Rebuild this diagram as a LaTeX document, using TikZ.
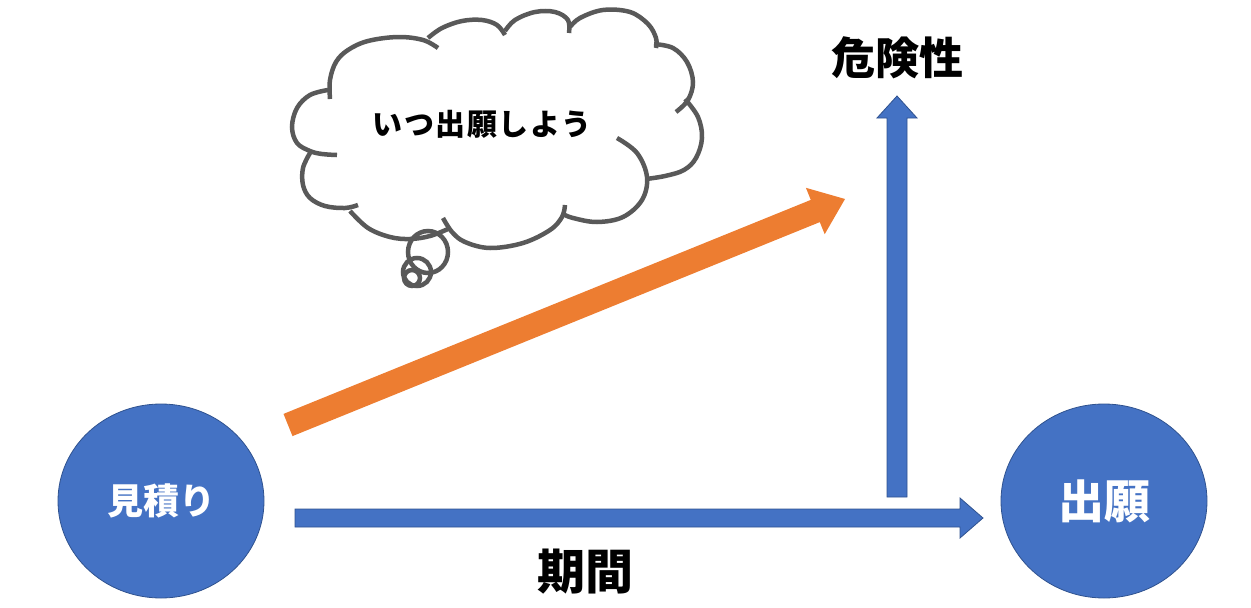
\documentclass[tikz,border=0pt]{standalone}
\usepackage{fontspec}
\newfontfamily\jp{Noto Sans CJK JP}
\newfontfamily\jpsp{Noto Sans CJK JP}[LetterSpace=5]
\usetikzlibrary{shapes.geometric}
\definecolor{pblue}{HTML}{4472C4}
\definecolor{pblueline}{HTML}{2F528F}
\definecolor{porange}{HTML}{ED7D31}
\definecolor{pgray}{HTML}{595959}
\tikzset{
  bluecirc/.style={ellipse, draw=pblueline, line width=0.8pt, fill=pblue,
    minimum width=206pt, minimum height=194pt, inner sep=0pt, text=white},
  blueblock/.style={fill=pblue, draw=pblueline, line width=0.8pt, line join=miter},
  orangeblock/.style={fill=porange, draw=none},
  cloudline/.style={draw=pgray, line width=4.5pt, line cap=butt},
  puff/.style={cloudline, smooth, tension=0.6},
  bigtext/.style={inner sep=0pt, text=black},
}
\begin{document}
\begin{tikzpicture}[x=1pt,y=-1pt]
\useasboundingbox (0,0) rectangle (1251,608);

% circles
\node[bluecirc, font=\jp\bfseries\fontsize{36}{40}\selectfont] (est) at (161,501) {見積り};
\node[bluecirc, font=\jp\bfseries\fontsize{46}{50}\selectfont] (app) at (1104,501) {出願};

% horizontal blue arrow
\coordinate (h1) at (295,518);
\coordinate (h2) at (983,518);
\filldraw[blueblock] (295,509) -- (960,509) -- (960,498) -- (h2) -- (960,538) -- (960,527) -- (295,527) -- cycle;

% vertical blue arrow
\coordinate (v1) at (897,497);
\coordinate (v2) at (897,96);
\filldraw[blueblock] (887,497) -- (887,118) -- (877,118) -- (v2) -- (917,118) -- (907,118) -- (907,497) -- cycle;

% orange arrow
\coordinate (o1) at (288,425);
\coordinate (o2) at (845,199);
\fill[orangeblock] (283.5,413.9) -- (810.8,199.9) -- (805.9,187.8) -- (o2) -- (824.7,234.2) -- (819.8,222.1) -- (292.5,436.1) -- cycle;

% labels
\node[bigtext, font=\jp\bfseries\fontsize{44}{48}\selectfont] (risk) at (897,58) {危険性};
\node[bigtext, font=\jp\bfseries\fontsize{48}{52}\selectfont] (period) at (585,572) {期間};

% cloud
\draw[puff] plot coordinates {(330,99) (330,80) (336,62) (348,50) (368,41) (398,37) (423,40) (438,48)};
\draw[puff] plot coordinates {(428,38) (442,28) (462,21) (482,20) (497,25) (505,35)};
\draw[puff] plot coordinates {(505,31) (515,20) (535,12) (555,12) (568,20) (569,33)};
\draw[puff] plot coordinates {(570,27) (580,18) (603,10) (630,12) (648,24) (656,38) (656,48)};
\draw[puff] plot coordinates {(654,44) (673,48) (687,62) (693,82) (688,100) (676,112)};
\draw[puff] plot coordinates {(685,99) (698,117) (702,138) (696,158) (684,170) (665,176) (646,179)};
\draw[puff] plot coordinates {(617,138) (637,153) (647,177) (642,200) (623,217) (597,222) (573,218) (563,214)};
\draw[puff] plot coordinates {(565,205) (562,217) (550,230) (523,243) (490,248) (465,242) (452,232) (443,218)};
\draw[puff] plot coordinates {(448,229) (430,236) (410,239) (390,237) (368,228) (350,211)};
\draw[puff] plot coordinates {(310,153) (303,168) (303,185) (310,198) (325,206) (345,208) (358,205)};
\draw[puff] plot coordinates {(328,90) (310,95) (297,108) (292,127) (297,143) (310,151) (322,154) (337,155)};
\draw[cloudline] (428,252) ellipse [x radius=20, y radius=21];
\draw[cloudline] (417,272) ellipse [x radius=14, y radius=14];
\draw[cloudline] (412,278) ellipse [x radius=8, y radius=8];
\node[bigtext, font=\jpsp\bfseries\fontsize{30}{34}\selectfont] (thought) at (482,124) {いつ出願しよう};
\end{tikzpicture}
\end{document}
